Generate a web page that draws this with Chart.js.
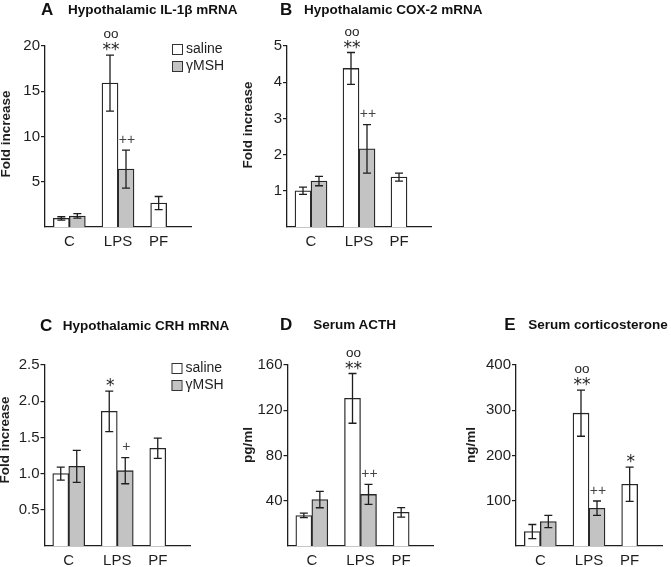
<!DOCTYPE html>
<html>
<head>
<meta charset="utf-8">
<script src="https://cdn.jsdelivr.net/npm/chart.js@4.4.0/dist/chart.umd.min.js"></script>
<style>
  html, body { margin: 0; padding: 0; background: #fff; }
  #fig { position: relative; width: 671px; height: 567px; overflow: hidden; font-family: "Liberation Sans", Arial, sans-serif; }
  #fig canvas { position: absolute; }
  .head { position: absolute; white-space: nowrap; font-weight: bold; color: #111; }
  .letter { font-size: 17px; line-height: 20px; }
  .title { font-size: 13.5px; line-height: 16px; }
</style>
</head>
<body>
<div id="fig"></div>
<script>
// Groups and series names
const categories = ['C', 'LPS', 'PF'];
const seriesNames = ['saline', 'γMSH'];

// A - hypothalamic IL-1beta mRNA (fold increase)
const il1bSaline = [0.95, 15.9, 2.65];
const il1bSalineErr = [0.18, 3.1, 0.72];
const il1bMsh = [1.22, 6.4, null];
const il1bMshErr = [0.25, 2.1, null];
const il1bSalineMarks = ['', 'oo\n**', ''];
const il1bMshMarks = ['', '++', ''];
const il1bTicks = ['5', '10', '15', '20'];

// B - hypothalamic COX-2 mRNA (fold increase)
const cox2Saline = [1.0, 4.38, 1.38];
const cox2SalineErr = [0.1, 0.44, 0.11];
const cox2Msh = [1.27, 2.16, null];
const cox2MshErr = [0.13, 0.67, null];
const cox2SalineMarks = ['', 'oo\n**', ''];
const cox2MshMarks = ['', '++', ''];
const cox2Ticks = ['1', '2', '3', '4', '5'];

// C - hypothalamic CRH mRNA (fold increase)
const crhSaline = [1.0, 1.86, 1.35];
const crhSalineErr = [0.09, 0.28, 0.14];
const crhMsh = [1.1, 1.04, null];
const crhMshErr = [0.22, 0.18, null];
const crhSalineMarks = ['', '*', ''];
const crhMshMarks = ['', '+', ''];
const crhTicks = ['0.5', '1.0', '1.5', '2.0', '2.5'];

// D - serum ACTH (pg/ml)
const acthSaline = [27, 130.5, 29.7];
const acthSalineErr = [2, 22, 4.2];
const acthMsh = [41, 45.6, null];
const acthMshErr = [7.2, 8.8, null];
const acthSalineMarks = ['', 'oo\n**', ''];
const acthMshMarks = ['', '++', ''];
const acthTicks = ['40', '80', '120', '160'];

// E - serum corticosterone (ng/ml)
const corticoSaline = [32, 293.5, 136.5];
const corticoSalineErr = [15.5, 51, 38];
const corticoMsh = [54, 83.5, null];
const corticoMshErr = [13.5, 16, null];
const corticoSalineMarks = ['', 'oo\n**', '*'];
const corticoMshMarks = ['', '++', ''];
const corticoTicks = ['100', '200', '300', '400'];

const FONT = '"Liberation Sans", Arial, sans-serif';
const INK = '#1e1e1e';
const GREY = '#c3c3c3';

// page layout of the five panels (canvas box, plot area, text anchors)
const panels = [
    { letter: 'A', title: 'Hypothalamic IL-1β mRNA', yTitle: 'Fold increase', legend: true,
      saline: il1bSaline, salineErr: il1bSalineErr, salineMarks: il1bSalineMarks,
      msh: il1bMsh, mshErr: il1bMshErr, mshMarks: il1bMshMarks, ticks: il1bTicks,
      box: { l: 0, t: 18, w: 232, h: 236 }, area: { l: 45, t: 46, r: 191, b: 227 },
      yTitlePos: { x: 6, y: 134 }, letterPos: { x: 41, y: 10 }, titlePos: { x: 68, y: 10 } },
    { letter: 'B', title: 'Hypothalamic COX-2 mRNA', yTitle: 'Fold increase', legend: false,
      saline: cox2Saline, salineErr: cox2SalineErr, salineMarks: cox2SalineMarks,
      msh: cox2Msh, mshErr: cox2MshErr, mshMarks: cox2MshMarks, ticks: cox2Ticks,
      box: { l: 235, t: 18, w: 205, h: 236 }, area: { l: 287, t: 46, r: 431, b: 227 },
      yTitlePos: { x: 248, y: 125 }, letterPos: { x: 280, y: 10 }, titlePos: { x: 304, y: 10 } },
    { letter: 'C', title: 'Hypothalamic CRH mRNA', yTitle: 'Fold increase', legend: true,
      saline: crhSaline, salineErr: crhSalineErr, salineMarks: crhSalineMarks,
      msh: crhMsh, mshErr: crhMshErr, mshMarks: crhMshMarks, ticks: crhTicks,
      box: { l: 0, t: 335, w: 232, h: 232 }, area: { l: 44.5, t: 365, r: 190, b: 546 },
      yTitlePos: { x: 5, y: 440 }, letterPos: { x: 40, y: 326 }, titlePos: { x: 62.7, y: 326 } },
    { letter: 'D', title: 'Serum ACTH', yTitle: 'pg/ml', legend: false,
      saline: acthSaline, salineErr: acthSalineErr, salineMarks: acthSalineMarks,
      msh: acthMsh, mshErr: acthMshErr, mshMarks: acthMshMarks, ticks: acthTicks,
      box: { l: 235, t: 335, w: 205, h: 232 }, area: { l: 287.5, t: 365, r: 433.5, b: 546 },
      yTitlePos: { x: 248.3, y: 445 }, letterPos: { x: 280, y: 325 }, titlePos: { x: 313.3, y: 325 } },
    { letter: 'E', title: 'Serum corticosterone', yTitle: 'ng/ml', legend: false,
      saline: corticoSaline, salineErr: corticoSalineErr, salineMarks: corticoSalineMarks,
      msh: corticoMsh, mshErr: corticoMshErr, mshMarks: corticoMshMarks, ticks: corticoTicks,
      box: { l: 460, t: 335, w: 211, h: 232 }, area: { l: 516, t: 365, r: 662, b: 546 },
      yTitlePos: { x: 471.7, y: 445 }, letterPos: { x: 504.3, y: 325 }, titlePos: { x: 528.3, y: 325 } }
];

// how a significance mark is drawn: font and glyph centre (fraction of em above baseline)
function markStyle(line) {
    if (line.indexOf('*') >= 0) return { font: '17px "DejaVu Sans"', rise: 0.56, size: 17, color: INK };
    if (line.indexOf('+') >= 0) return { font: '14px ' + FONT, rise: 0.34, size: 14, color: '#444' };
    return { font: '13.5px ' + FONT, rise: 0.265, size: 13.5, color: INK };
}

const extrasPlugin = {
    id: 'panelExtras',
    afterDatasetsDraw(chart) {
        const ctx = chart.ctx;
        const y = chart.scales.y;
        chart.data.datasets.forEach((ds, di) => {
            const meta = chart.getDatasetMeta(di);
            meta.data.forEach((bar, i) => {
                const v = ds.data[i];
                if (v === null || v === undefined) return;
                const e = ds.errors[i];
                const yTop = y.getPixelForValue(v + e);
                const yBot = y.getPixelForValue(v - e);
                ctx.save();
                ctx.strokeStyle = INK;
                ctx.lineWidth = 1.3;
                ctx.beginPath();
                ctx.moveTo(bar.x, yTop); ctx.lineTo(bar.x, yBot);
                ctx.moveTo(bar.x - 4, yTop); ctx.lineTo(bar.x + 4, yTop);
                ctx.moveTo(bar.x - 4, yBot); ctx.lineTo(bar.x + 4, yBot);
                ctx.stroke();

                // significance marks stacked above the error bar
                const lines = ds.marks[i] ? ds.marks[i].split('\n').reverse() : [];
                let centre = yTop - (lines.length && lines[0].indexOf('+') >= 0 ? 11 : 9.5);
                lines.forEach(line => {
                    const st = markStyle(line);
                    ctx.font = st.font;
                    ctx.fillStyle = st.color;
                    ctx.textAlign = 'center';
                    ctx.textBaseline = 'alphabetic';
                    ctx.fillText(line, bar.x + 1, centre + st.rise * st.size);
                    centre -= 11;
                });
                ctx.restore();
            });
        });
    },
    afterDraw(chart, args, opts) {
        const ctx = chart.ctx;
        const area = chart.chartArea;
        const p = opts.panel;
        ctx.save();

        // group labels under the bars that are present
        ctx.font = '15px ' + FONT;
        ctx.fillStyle = INK;
        ctx.textAlign = 'center';
        ctx.textBaseline = 'middle';
        categories.forEach((cat, i) => {
            const xs = [];
            chart.data.datasets.forEach((ds, di) => {
                if (ds.data[i] !== null) xs.push(chart.getDatasetMeta(di).data[i].x);
            });
            const cx = xs.reduce((a, b) => a + b, 0) / xs.length;
            ctx.fillText(cat, cx, area.bottom + 15);
        });

        // y axis title
        ctx.save();
        ctx.translate(p.yTitlePos.x - p.box.l, p.yTitlePos.y - p.box.t);
        ctx.rotate(-Math.PI / 2);
        ctx.font = 'bold 13.5px ' + FONT;
        ctx.fillText(p.yTitle, 0, 0);
        ctx.restore();

        // legend inside the plot, top right
        if (p.legend) {
            chart.data.datasets.forEach((ds, di) => {
                const bx = area.left + 127;
                const by = area.top - 2 + di * 17;
                ctx.fillStyle = ds.backgroundColor;
                ctx.fillRect(bx, by, 10, 10);
                ctx.strokeStyle = '#333';
                ctx.lineWidth = 1;
                ctx.strokeRect(bx + 0.5, by + 0.5, 10, 10);
                ctx.fillStyle = INK;
                ctx.font = '14px ' + FONT;
                ctx.textAlign = 'left';
                ctx.textBaseline = 'middle';
                ctx.fillText(ds.label, bx + 14, by + 5.5);
            });
        }
        ctx.restore();
    }
};

const fig = document.getElementById('fig');

panels.forEach(p => {
    const canvas = document.createElement('canvas');
    canvas.width = p.box.w;
    canvas.height = p.box.h;
    canvas.style.left = p.box.l + 'px';
    canvas.style.top = p.box.t + 'px';
    fig.appendChild(canvas);

    const letter = document.createElement('div');
    letter.className = 'head letter';
    letter.textContent = p.letter;
    letter.style.left = p.letterPos.x + 'px';
    letter.style.top = (p.letterPos.y - 10) + 'px';
    fig.appendChild(letter);

    const title = document.createElement('div');
    title.className = 'head title';
    title.textContent = p.title;
    title.style.left = p.titlePos.x + 'px';
    title.style.top = (p.titlePos.y - 8) + 'px';
    fig.appendChild(title);

    const tickValues = p.ticks.map(Number);

    new Chart(canvas.getContext('2d'), {
        type: 'bar',
        data: {
            labels: categories,
            datasets: [
                { label: seriesNames[0], data: p.saline, errors: p.salineErr, marks: p.salineMarks,
                  backgroundColor: '#ffffff', borderColor: '#262626', borderWidth: 1.3, barThickness: 16 },
                { label: seriesNames[1], data: p.msh, errors: p.mshErr, marks: p.mshMarks,
                  backgroundColor: GREY, borderColor: '#262626', borderWidth: 1.3, barThickness: 16 }
            ]
        },
        options: {
            responsive: false,
            animation: false,
            layout: {
                padding: { left: 0, top: p.area.t - p.box.t, right: p.box.l + p.box.w - p.area.r, bottom: 0 }
            },
            plugins: {
                legend: { display: false },
                tooltip: { enabled: false },
                panelExtras: { panel: p }
            },
            scales: {
                x: {
                    offset: true,
                    grid: { display: false },
                    border: { display: true, color: INK, width: 1.3 },
                    ticks: { display: false },
                    afterFit: s => { s.height = p.box.t + p.box.h - p.area.b; }
                },
                y: {
                    min: 0,
                    max: tickValues[tickValues.length - 1],
                    grid: { display: true, drawOnChartArea: false, drawTicks: true, tickLength: 4, color: INK, lineWidth: 1.2 },
                    border: { display: true, color: INK, width: 1.3 },
                    ticks: {
                        font: { family: FONT, size: 15 },
                        color: INK,
                        padding: 1,
                        autoSkip: false,
                        callback: (v, i) => p.ticks[i]
                    },
                    afterBuildTicks: s => { s.ticks = tickValues.map(v => ({ value: v })); },
                    afterFit: s => { s.width = p.area.l - p.box.l; }
                }
            }
        },
        plugins: [extrasPlugin]
    });
});
</script>
</body>
</html>
